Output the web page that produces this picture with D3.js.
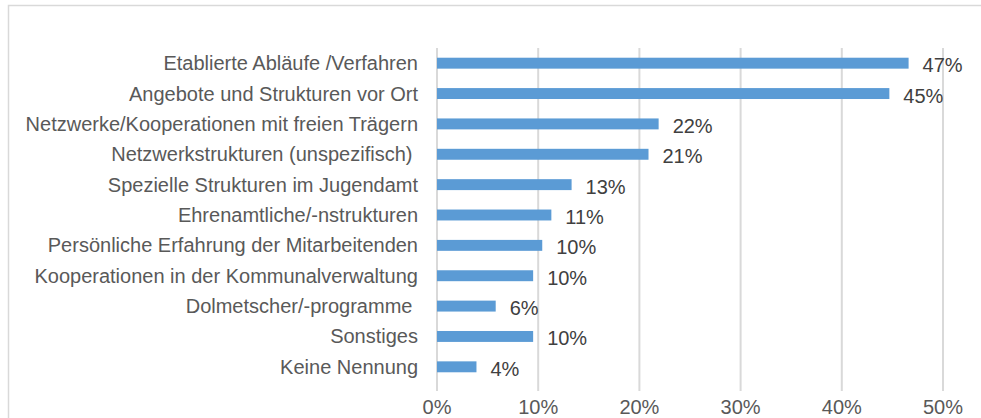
<!DOCTYPE html>
<html>
<head>
<meta charset="utf-8">
<script src="https://cdn.jsdelivr.net/npm/d3@7"></script>
<style>
    body { margin: 0; background: #fff; }
    svg { display: block; }
</style>
</head>
<body>
<div id="chart"></div>
<script>
const categories = [
    "Etablierte Abläufe /Verfahren",
    "Angebote und Strukturen vor Ort",
    "Netzwerke/Kooperationen mit freien Trägern",
    "Netzwerkstrukturen (unspezifisch) ",
    "Spezielle Strukturen im Jugendamt",
    "Ehrenamtliche/-nstrukturen",
    "Persönliche Erfahrung der Mitarbeitenden",
    "Kooperationen in der Kommunalverwaltung",
    "Dolmetscher/-programme ",
    "Sonstiges",
    "Keine Nennung"
];
const values = [46.6, 44.7, 21.9, 20.9, 13.3, 11.3, 10.4, 9.5, 5.8, 9.5, 3.9];
const valueLabels = ["47%", "45%", "22%", "21%", "13%", "11%", "10%", "10%", "6%", "10%", "4%"];
const xTicks = [0, 10, 20, 30, 40, 50];

const width = 981, height = 418;
const font = "'Liberation Sans', Arial, sans-serif";
const textColor = "#595959";

const svg = d3.select("#chart").append("svg")
    .attr("width", width)
    .attr("height", height);

// chart frame
svg.append("rect")
    .attr("x", 8.5).attr("y", 5.5)
    .attr("width", width + 10).attr("height", height + 10)
    .attr("fill", "none")
    .attr("stroke", "#d9d9d9")
    .attr("stroke-width", 1.5);

const x = d3.scaleLinear().domain([0, 50]).range([437, 943]);
const y = d3.scaleBand().domain(categories).range([48, 382]).paddingInner(0.64).paddingOuter(0.32);

// gridlines
svg.append("g").selectAll("line")
    .data(xTicks)
    .join("line")
    .attr("x1", d => x(d)).attr("x2", d => x(d))
    .attr("y1", 48).attr("y2", 391)
    .attr("stroke", "#d9d9d9")
    .attr("stroke-width", 2);

// x tick labels
svg.append("g").selectAll("text")
    .data(xTicks)
    .join("text")
    .attr("x", d => x(d))
    .attr("y", 414)
    .attr("text-anchor", "middle")
    .attr("font-family", font)
    .attr("font-size", 20)
    .attr("fill", textColor)
    .text(d => d + "%");

// category labels
svg.append("g").selectAll("text")
    .data(categories)
    .join("text")
    .attr("x", 418)
    .attr("y", d => y(d) + y.bandwidth() / 2)
    .attr("dy", "0.35em")
    .attr("text-anchor", "end")
    .attr("font-family", font)
    .attr("font-size", 20)
    .attr("fill", textColor)
    .attr("xml:space", "preserve")
    .text(d => d);

// bars
svg.append("g").selectAll("rect")
    .data(values)
    .join("rect")
    .attr("x", x(0))
    .attr("y", (d, i) => y(categories[i]))
    .attr("width", d => x(d) - x(0))
    .attr("height", y.bandwidth())
    .attr("fill", "#5b9bd5");

// value labels
svg.append("g").selectAll("text")
    .data(values)
    .join("text")
    .attr("x", d => x(d) + 14)
    .attr("y", (d, i) => y(categories[i]) + y.bandwidth() / 2 + 2)
    .attr("dy", "0.35em")
    .attr("font-family", font)
    .attr("font-size", 20)
    .attr("fill", "#404040")
    .text((d, i) => valueLabels[i]);
</script>
</body>
</html>
